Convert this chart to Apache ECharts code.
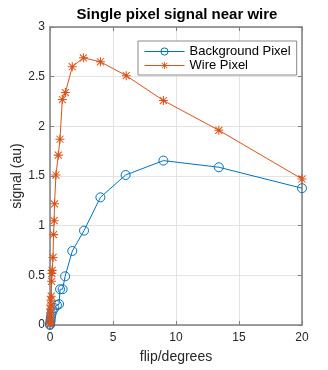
<!DOCTYPE html>
<html>
<head>
<meta charset="utf-8">
<script src="https://cdn.jsdelivr.net/npm/echarts@6/dist/echarts.min.js"></script>
<style>
  html, body { margin: 0; padding: 0; background: #fff; }
  #chart { width: 328px; height: 370px; }
</style>
</head>
<body>
<div id="chart"></div>
<script>
// values
var bgFlip = [0, 0.01, 0.03, 0.05, 0.08, 0.12, 0.2, 0.35, 0.55, 0.72, 0.8, 1.0, 1.2, 1.77, 2.7, 4.0, 6.0, 9.0, 13.4, 20];
var bgSignal = [0, 0.01, 0.03, 0.05, 0.08, 0.11, 0.14, 0.17, 0.2, 0.21, 0.36, 0.36, 0.49, 0.745, 0.95, 1.285, 1.51, 1.655, 1.588, 1.377];

var wireFlip = [0, 0.01, 0.02, 0.03, 0.04, 0.05, 0.07, 0.08, 0.1, 0.13, 0.15, 0.17, 0.24, 0.28, 0.33, 0.36, 0.47, 0.66, 0.79, 0.98, 1.22, 1.77, 2.65, 4.0, 6.05, 9.0, 13.4, 20];
var wireSignal = [0.01, 0.02, 0.05, 0.08, 0.12, 0.16, 0.2, 0.25, 0.29, 0.44, 0.52, 0.55, 0.68, 0.91, 1.05, 1.22, 1.51, 1.71, 1.87, 2.27, 2.34, 2.60, 2.69, 2.65, 2.51, 2.26, 1.96, 1.47];

function pairs(xs, ys) {
  return xs.map(function (x, i) { return [x, ys[i]]; });
}

var font = 'Liberation Sans, Arial, sans-serif';
var axisGrey = '#7f7f7f';
// asterisk (+ and x) built from thin filled bars
var star = 'path://M0,4.4L10,4.4L10,5.6L0,5.6Z' +
  'M4.4,0L5.6,0L5.6,10L4.4,10Z' +
  'M1.5,0.7L9.3,8.5L8.5,9.3L0.7,1.5Z' +
  'M8.5,0.7L9.3,1.5L1.5,9.3L0.7,8.5Z';

var myChart = echarts.init(document.getElementById('chart'));
var option = {
  animation: false,
  textStyle: {fontFamily: font},
  title: {
    text: 'Single pixel signal near wire',
    left: 172,
    textAlign: 'center',
    top: 2,
    textStyle: {fontSize: 15, fontWeight: 'bold', color: '#000', fontFamily: font}
  },
  legend: {
    orient: 'vertical',
    left: 138,
    top: 41,
    padding: [4, 6, 3, 6],
    itemGap: 1,
    itemWidth: 40,
    itemHeight: 9,
    backgroundColor: '#fff',
    borderColor: '#8a8a8a',
    borderWidth: 1,
    lineStyle: {width: 1},
    itemStyle: {borderWidth: 1},
    textStyle: {fontSize: 13, color: '#000', fontFamily: font},
    data: ['Background Pixel', 'Wire Pixel']
  },
  grid: {left: 50, right: 26, top: 27, bottom: 45, outerBoundsMode: 'none'},
  xAxis: [{
    type: 'value',
    min: 0,
    max: 20,
    interval: 5,
    name: 'flip/degrees',
    nameLocation: 'middle',
    nameGap: 25,
    nameTextStyle: {fontSize: 14, color: '#262626'},
    axisLine: {lineStyle: {color: axisGrey, width: 1.5}},
    axisTick: {inside: true, length: 4, lineStyle: {color: axisGrey}},
    axisLabel: {fontSize: 12, color: '#262626', margin: 7},
    splitLine: {show: true, lineStyle: {color: '#e3e3e3'}}
  }, {
    type: 'value',
    position: 'top',
    min: 0,
    max: 20,
    interval: 5,
    axisLine: {onZero: false, lineStyle: {color: axisGrey, width: 1.5}},
    axisTick: {inside: true, length: 4, lineStyle: {color: axisGrey}},
    axisLabel: {show: false},
    splitLine: {show: false}
  }],
  yAxis: [{
    type: 'value',
    min: 0,
    max: 3,
    interval: 0.5,
    name: 'signal (au)',
    nameLocation: 'middle',
    nameGap: 26,
    nameMoveOverlap: false,
    nameTextStyle: {fontSize: 14, color: '#262626'},
    axisLine: {show: true, lineStyle: {color: axisGrey, width: 1.5}},
    axisTick: {show: true, inside: true, length: 4, lineStyle: {color: axisGrey}},
    axisLabel: {fontSize: 12, color: '#262626', margin: 5},
    splitLine: {show: true, lineStyle: {color: '#e3e3e3'}}
  }, {
    type: 'value',
    position: 'right',
    min: 0,
    max: 3,
    interval: 0.5,
    axisLine: {show: true, onZero: false, lineStyle: {color: axisGrey, width: 1.5}},
    axisTick: {show: true, inside: true, length: 4, lineStyle: {color: axisGrey}},
    axisLabel: {show: false},
    splitLine: {show: false}
  }],
  series: [{
    name: 'Background Pixel',
    type: 'line',
    data: pairs(bgFlip, bgSignal),
    symbol: 'circle',
    symbolSize: 9,
    showAllSymbol: true,
    color: '#0072BD',
    lineStyle: {width: 1, color: '#0072BD'},
    itemStyle: {color: 'rgba(255,255,255,0)', borderColor: '#0072BD', borderWidth: 1},
    z: 2
  }, {
    name: 'Wire Pixel',
    type: 'line',
    data: pairs(wireFlip, wireSignal),
    symbol: star,
    symbolSize: 9,
    showAllSymbol: true,
    color: '#D95319',
    lineStyle: {width: 1, color: '#D95319'},
    itemStyle: {color: '#D95319', borderWidth: 0},
    z: 3
  }]
};
myChart.setOption(option);
</script>
</body>
</html>
